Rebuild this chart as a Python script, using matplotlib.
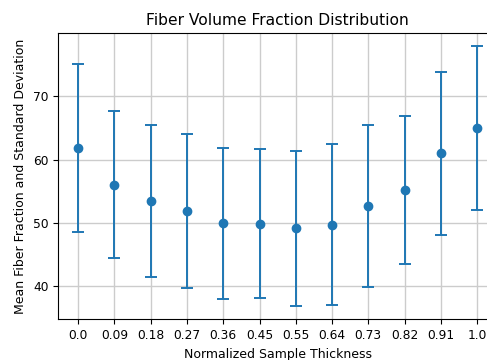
import numpy as np
import matplotlib.pyplot as plt

# Mean fiber volume fraction and its standard deviation through the thickness
thickness = np.linspace(0, 1, 12)
tick_labels = ["0.0", "0.09", "0.18", "0.27", "0.36", "0.45",
               "0.55", "0.64", "0.73", "0.82", "0.91", "1.0"]
mean_fraction = [61.85, 56.05, 53.5, 51.9, 49.9, 49.85, 49.1, 49.7, 52.65, 55.2, 61.0, 65.0]
std_fraction = [13.25, 11.65, 12.0, 12.2, 11.9, 11.75, 12.3, 12.7, 12.75, 11.7, 12.9, 12.9]

fig = plt.figure(figsize=(4.87, 3.6), dpi=100)
ax = fig.add_axes([58.3 / 487, 1 - 319.3 / 360, (497 - 58.3) / 487, (319.3 - 33.3) / 360])

ax.errorbar(thickness, mean_fraction, yerr=std_fraction, fmt='o', color='#1f77b4',
            markersize=6, elinewidth=1.4, capsize=4.5, capthick=1.4)

ax.set_xticks(thickness)
ax.set_xticklabels(tick_labels)
ax.tick_params(labelsize=8.8)
ax.grid(True, color='#cccccc', linewidth=1)
ax.set_axisbelow(True)

ax.set_title("Fiber Volume Fraction Distribution", fontsize=11.2)
ax.set_xlabel("Normalized Sample Thickness", fontsize=9)
ax.set_ylabel("Mean Fiber Fraction and Standard Deviation", fontsize=9)

fig.savefig("out.png", dpi=100)
